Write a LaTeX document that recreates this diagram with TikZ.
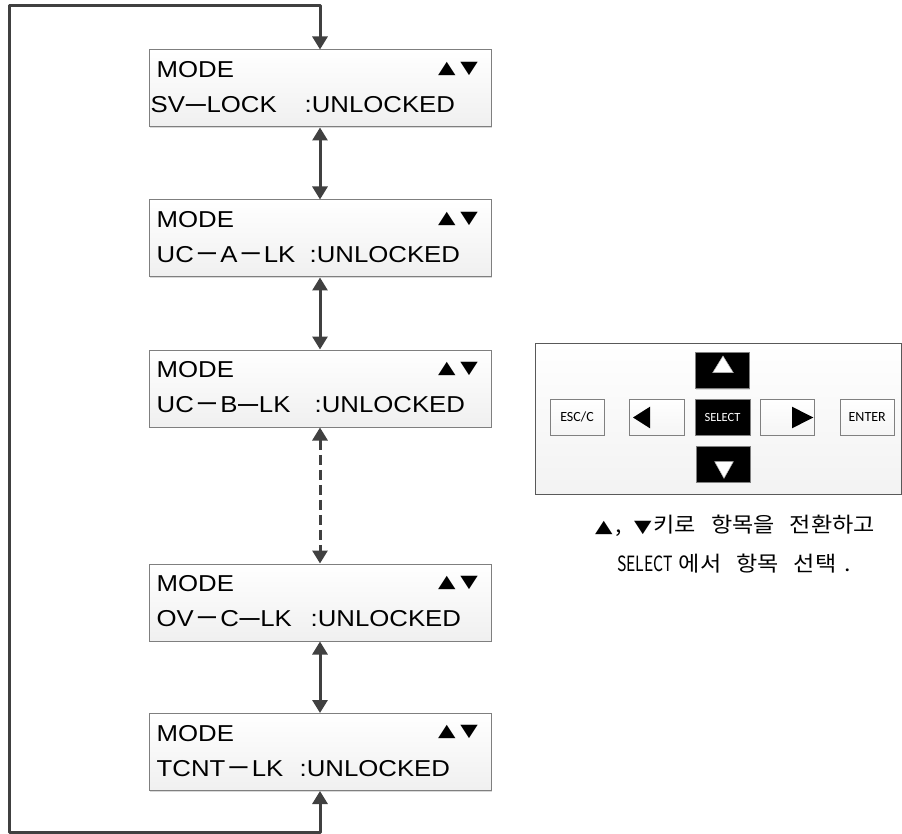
\documentclass[tikz,border=0pt]{standalone}
\usepackage{fontspec}
\usepackage{graphicx}
\usetikzlibrary{arrows.meta,calc,shadows}
\newfontfamily\lcdfont[FakeStretch=1.12]{Liberation Sans}
\newfontfamily\symfont[FakeStretch=1.3]{DejaVu Sans}
\newfontfamily\krfont[FakeStretch=1.1]{Noto Sans CJK KR}
\newfontfamily\keyfont{Carlito}
\definecolor{arrowgray}{HTML}{404040}
\definecolor{boxedge}{HTML}{7F7F7F}
% short dash (with space around) and long dash used on the LCD lines
\newcommand\sdash{\kern0.1em\scalebox{1.45}[1.15]{−}\kern0.1em}
\newcommand\ldash{\kern0.03em\raisebox{0.02em}{\scalebox{0.78}[1.2]{—}}\kern0.03em}
\begin{document}
\begin{tikzpicture}[x=1pt,y=-1pt,
  lcdbox/.style={draw=boxedge, line width=1pt, top color=white, bottom color=gray!12,
    minimum width=342pt, minimum height=77pt, inner sep=0pt,
    drop shadow={shadow xshift=1.2pt,shadow yshift=-1.2pt,opacity=0.3}},
  lcdtext/.style={font=\lcdfont\fontsize{23}{23}\selectfont, anchor=base west, inner sep=0pt},
  symtext/.style={font=\symfont\fontsize{17.5}{17.5}\selectfont, anchor=east, inner sep=0pt},
  conn/.style={draw=arrowgray, line width=3pt,
    {Triangle[width=15pt,length=13pt]}-{Triangle[width=15pt,length=13pt]}},
  panel/.style={draw=gray!70!black, line width=1pt, top color=white, bottom color=gray!10,
    minimum width=366pt, minimum height=151pt, inner sep=0pt},
  keybox/.style={draw=gray, line width=0.8pt, top color=white, bottom color=gray!8,
    minimum width=54pt, minimum height=36pt, inner sep=0pt,
    font=\keyfont\fontsize{14}{14}\selectfont,
    drop shadow={shadow xshift=1pt,shadow yshift=-1pt,opacity=0.25}},
  darkkey/.style={keybox, fill=black, top color=black, bottom color=black, text=white,
    font=\keyfont\fontsize{12.5}{12.5}\selectfont},
  keytri/.style={fill=black},
  keytriw/.style={fill=white, draw=gray!60, line width=0.5pt},
  caption/.style={font=\krfont\fontsize{21}{21}\selectfont, inner sep=0pt, anchor=center}
]
\useasboundingbox (0,0) rectangle (902,834);

% LCD boxes
\node[lcdbox] (b1) at (320,88.5) {};
\node[lcdbox] (b2) at (320,238.5) {};
\node[lcdbox] (b3) at (320,388.5) {};
\node[lcdbox] (b4) at (320,602.5) {};
\node[lcdbox] (b5) at (320,752) {};

\foreach \b/\pre/\px/\cx in {b1/SV\ldash LOCK/2/156, b2/UC\sdash A\sdash LK/8/161, b3/UC\sdash B\ldash LK/8/166, b4/OV\sdash C\ldash LK/8/162, b5/TCNT\sdash LK/8/151}{
  \node[lcdtext] (\b m) at ($(\b.north west)+(8,28)$) {MODE};
  \node[lcdtext] (\b p) at ($(\b.north west)+(\px,63)$) {\pre};
  \node[lcdtext] (\b c) at ($(\b.north west)+(\cx,63)$) {:UNLOCKED};
  \node[symtext] (\b s) at ($(\b.north east)+(-13.3,19)$) {▲\kern5pt▼};
}

% connectors
\draw[conn] (b1.south) -- (b2.north);
\draw[conn] (b2.south) -- (b3.north);
\draw[conn, dash pattern=on 10pt off 5pt] (b3.south) -- (b4.north);
\draw[conn] (b4.south) -- (b5.north);
\coordinate (lb) at (9,832);
\coordinate (lt) at (9,6);
\draw[conn, line join=round] (b5.south) |- (lb) -- (lt) -| (b1.north);

% keypad
\node[panel] (pad) at (718,418.5) {};
\node[keybox] (esc) at (577,417.3) {ESC/C};
\node[keybox, minimum width=55pt] (kl) at (656.7,417.3) {};
\node[darkkey, minimum width=55pt] (sel) at (722.5,417.3) {SELECT};
\node[keybox] (kr) at (787.2,417.3) {};
\node[keybox] (ent) at (867.2,417.3) {ENTER};
\node[darkkey] (ku) at (722,370.5) {};
\node[darkkey] (kd) at (723,464) {};
\fill[keytri] (633,417.5) -- (650,406.7) -- (650,428.3) -- cycle;
\fill[keytri] (813.3,417.5) -- (792,406.7) -- (792,428.3) -- cycle;
\filldraw[keytriw] (723,356) -- (733.3,372.7) -- (712.7,372.7) -- cycle;
\filldraw[keytriw] (724,478.3) -- (733.3,461.7) -- (714.7,461.7) -- cycle;

% caption
\node[caption] (cap1) at (735,526) {{\symfont\fontsize{17.5}{17.5}\selectfont ▲}\kern3pt,\kern12pt{\symfont\fontsize{17.5}{17.5}\selectfont ▼}\kern2pt 키로\hspace{15pt}항목을\hspace{15pt}전환하고};
\node[caption] (cap2) at (734,564) {\scalebox{0.68}[1]{SELECT}\kern6pt 에서\hspace{15pt}항목\hspace{15pt}선택\kern8pt.};
\end{tikzpicture}
\end{document}
